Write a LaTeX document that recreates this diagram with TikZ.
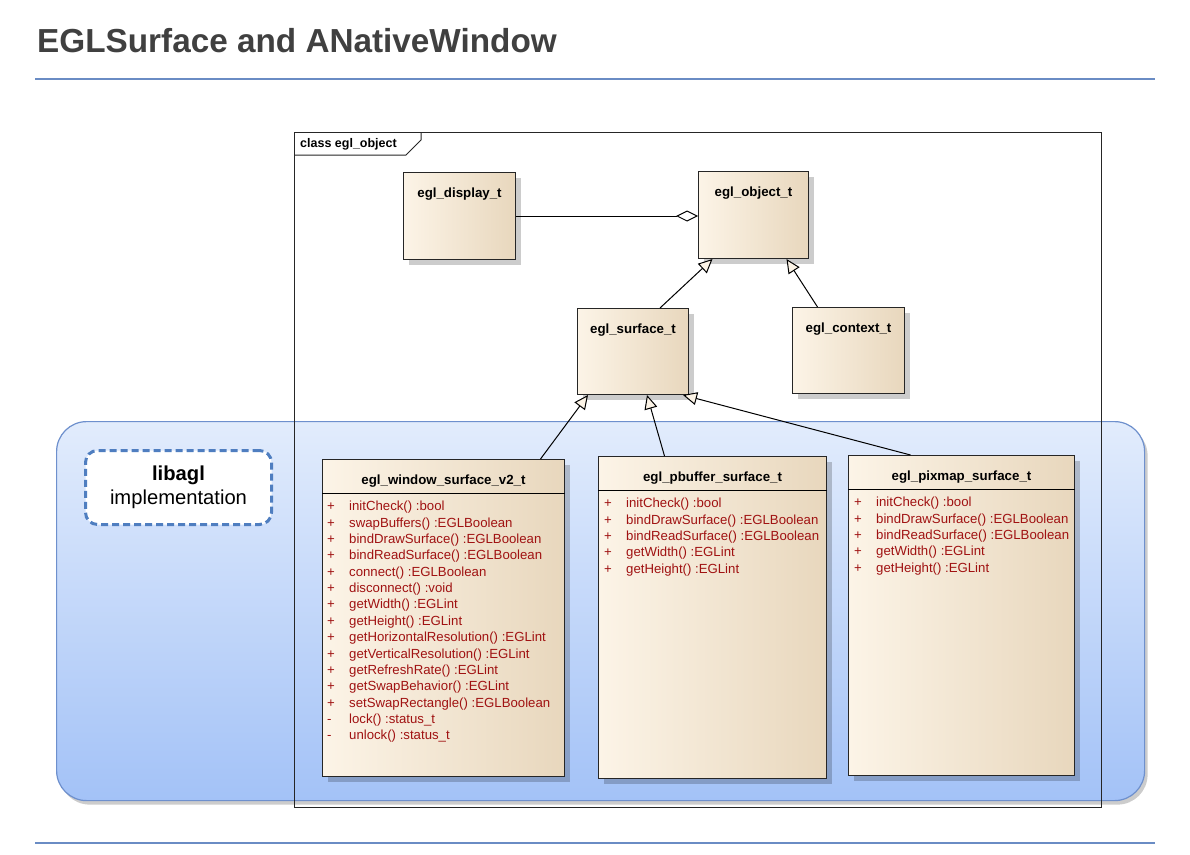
\documentclass[tikz,border=0pt]{standalone}
\usepackage{fontspec}
\setmainfont{Liberation Sans}
\usepackage{xcolor}
\usetikzlibrary{positioning,arrows.meta,shadows}
\definecolor{umlA}{HTML}{FCF4E7}
\definecolor{umlB}{HTML}{E8D7BD}
\definecolor{umlred}{HTML}{A01212}
\definecolor{rulecol}{HTML}{6A8CC4}
\definecolor{libtop}{HTML}{E2ECFC}
\definecolor{libbot}{HTML}{A3C2F7}
\definecolor{libedge}{HTML}{6E90CD}
\definecolor{dashcol}{HTML}{4F7EC0}
\definecolor{titlegray}{HTML}{404040}
\newcommand{\umlop}[2]{\makebox[22pt][l]{#1}#2}

\tikzset{
  umlclass/.style={draw=black!85, line width=1pt, left color=umlA, right color=umlB,
    inner sep=0pt, anchor=north west,
    drop shadow={shadow xshift=5pt, shadow yshift=-5pt, fill=black, opacity=0.2}},
  classname/.style={font=\bfseries\fontsize{13.3}{15}\selectfont, inner sep=0pt,
    text height=9pt, text depth=3pt},
  members/.style={font=\fontsize{13.2}{16.36}\selectfont, text=umlred, align=left,
    inner sep=0pt, anchor=north west},
  inherit/.style={-{Triangle[length=14pt, width=13pt, fill=umlA]}, line width=1pt},
  aggr/.style={-{Diamond[length=22pt, width=11pt, fill=white]}, line width=1pt},
}

\begin{document}
\begin{tikzpicture}[x=1pt, y=-1pt]
  \useasboundingbox[fill=white] (0,0) rectangle (1190,854);

  % title and rules
  \node[anchor=base west, inner sep=0pt, text=titlegray,
        font=\bfseries\fontsize{33.3}{40}\selectfont] (title) at (37,52.5) {EGLSurface and ANativeWindow};
  \draw[rulecol, line width=1.2pt] (35,79) -- (1155,79);
  \draw[rulecol, line width=1.2pt] (35,843) -- (1155,843);

  % libagl area
  \node[anchor=north west, minimum width=1088, minimum height=379, rounded corners=30pt,
        draw=libedge, line width=1.2pt, top color=libtop, bottom color=libbot,
        drop shadow={shadow xshift=3pt, shadow yshift=-4pt, fill=black, opacity=0.2}] (libarea) at (56,421) {};
  \node[anchor=north west, minimum width=186, minimum height=74, rounded corners=12pt,
        draw=dashcol, line width=3pt, dash pattern=on 7pt off 4pt, fill=white, align=center,
        font=\fontsize{20.2}{24}\selectfont] (libagl) at (84,449) {\textbf{libagl}\\implementation};

  % frame
  \node[draw=black!85, line width=1pt, anchor=north west, minimum width=807, minimum height=675,
        inner sep=0pt] (frame) at (294,132) {};
  \draw[black!85, line width=1pt] ([yshift=-23pt]frame.north west) -- ++(112,0) -- ++(15,-15) -- ++(0,-8);
  \node[anchor=west, font=\bfseries\fontsize{12.5}{14}\selectfont, inner sep=0pt] (frame-title)
        at ([shift={(6,12)}]frame.north west) {class egl\_object};

  % plain classes
  \node[umlclass, minimum width=112, minimum height=87] (display) at (403,172) {};
  \node[classname, below=16pt of display.north] (display-name) {egl\_display\_t};
  \node[umlclass, minimum width=110, minimum height=87] (object) at (698,171) {};
  \node[classname, below=16pt of object.north] (object-name) {egl\_object\_t};
  \node[umlclass, minimum width=111, minimum height=86] (surface) at (577,308) {};
  \node[classname, below=16pt of surface.north] (surface-name) {egl\_surface\_t};
  \node[umlclass, minimum width=112, minimum height=86] (context) at (792,307) {};
  \node[classname, below=16pt of context.north] (context-name) {egl\_context\_t};

  % surfaces with operations
  \node[umlclass, minimum width=242, minimum height=317] (win) at (322,459) {};
  \node[classname, below=16pt of win.north] (win-name) {egl\_window\_surface\_v2\_t};
  \draw[line width=1pt] ([yshift=-34pt]win.north west) -- ([yshift=-34pt]win.north east);
  \node[members] (win-ops) at ([shift={(5,42)}]win.north west) {%
    \umlop{+}{initCheck() :bool}\\
    \umlop{+}{swapBuffers() :EGLBoolean}\\
    \umlop{+}{bindDrawSurface() :EGLBoolean}\\
    \umlop{+}{bindReadSurface() :EGLBoolean}\\
    \umlop{+}{connect() :EGLBoolean}\\
    \umlop{+}{disconnect() :void}\\
    \umlop{+}{getWidth() :EGLint}\\
    \umlop{+}{getHeight() :EGLint}\\
    \umlop{+}{getHorizontalResolution() :EGLint}\\
    \umlop{+}{getVerticalResolution() :EGLint}\\
    \umlop{+}{getRefreshRate() :EGLint}\\
    \umlop{+}{getSwapBehavior() :EGLint}\\
    \umlop{+}{setSwapRectangle() :EGLBoolean}\\
    \umlop{-}{lock() :status\_t}\\
    \umlop{-}{unlock() :status\_t}};

  \node[umlclass, minimum width=228, minimum height=322] (pbuffer) at (598,456) {};
  \node[classname, below=16pt of pbuffer.north] (pbuffer-name) {egl\_pbuffer\_surface\_t};
  \draw[line width=1pt] ([yshift=-34pt]pbuffer.north west) -- ([yshift=-34pt]pbuffer.north east);
  \node[members] (pbuffer-ops) at ([shift={(6,42)}]pbuffer.north west) {%
    \umlop{+}{initCheck() :bool}\\
    \umlop{+}{bindDrawSurface() :EGLBoolean}\\
    \umlop{+}{bindReadSurface() :EGLBoolean}\\
    \umlop{+}{getWidth() :EGLint}\\
    \umlop{+}{getHeight() :EGLint}};

  \node[umlclass, minimum width=226, minimum height=320] (pixmap) at (848,455) {};
  \node[classname, below=16pt of pixmap.north] (pixmap-name) {egl\_pixmap\_surface\_t};
  \draw[line width=1pt] ([yshift=-34pt]pixmap.north west) -- ([yshift=-34pt]pixmap.north east);
  \node[members] (pixmap-ops) at ([shift={(6,42)}]pixmap.north west) {%
    \umlop{+}{initCheck() :bool}\\
    \umlop{+}{bindDrawSurface() :EGLBoolean}\\
    \umlop{+}{bindReadSurface() :EGLBoolean}\\
    \umlop{+}{getWidth() :EGLint}\\
    \umlop{+}{getHeight() :EGLint}};

  % relations
  \draw[aggr] (display.east) -- (object.west |- display.east);
  \draw[inherit] ([xshift=27pt]surface.north) -- ([xshift=-41pt]object.south);
  \draw[inherit] ([xshift=-31pt]context.north) -- ([xshift=33pt]object.south);
  \draw[inherit] ([xshift=97pt]win.north) -- ([xshift=-45pt]surface.south);
  \draw[inherit] ([xshift=-48pt]pbuffer.north) -- ([xshift=14pt]surface.south);
  \draw[inherit] ([xshift=-51pt]pixmap.north) -- ([xshift=50pt]surface.south);
\end{tikzpicture}
\end{document}
